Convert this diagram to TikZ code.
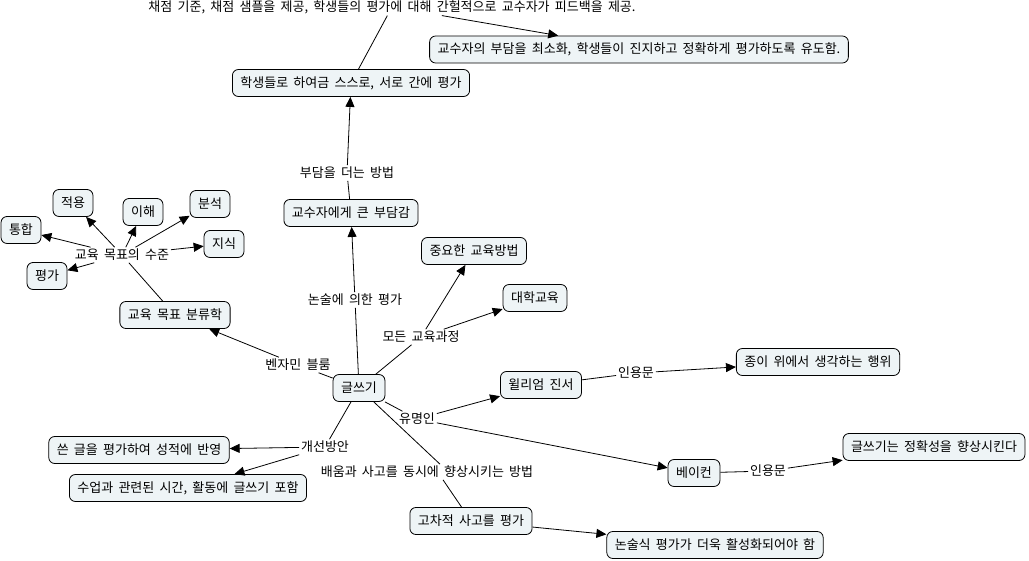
\documentclass[tikz,border=0pt]{standalone}
\usepackage{fontspec}
\newfontfamily\kr[WordSpace=1.8]{Noto Sans CJK KR}
\usetikzlibrary{arrows.meta}
\definecolor{boxfill}{RGB}{238,244,246}

\begin{document}
\begin{tikzpicture}[x=1pt,y=-1pt,line width=0.8pt,>={Triangle[length=10pt,width=9pt]},
  font=\kr\fontsize{13}{15}\selectfont,
  concept/.style={draw,rounded corners=6pt,fill=boxfill,inner xsep=8pt,minimum height=27pt},
  link/.style={inner sep=1.5pt}]
\useasboundingbox (0,0) rectangle (1029,561);
% concepts
\node[concept] (minim)   at (639,49.5) {교수자의 부담을 최소화, 학생들이 진지하고 정확하게 평가하도록 유도함.};
\node[concept] (peer)    at (351,83)   {학생들로 하여금 스스로, 서로 간에 평가};
\node[concept] (burden)  at (351,213)  {교수자에게 큰 부담감};
\node[concept] (write)   at (359,388)  {글쓰기};
\node[concept] (taxo)    at (175,315)  {교육 목표 분류학};
\node[concept] (method)  at (474,251)  {중요한 교육방법};
\node[concept] (univ)    at (535,298)  {대학교육};
\node[concept] (zinsser) at (541,385)  {윌리엄 진서};
\node[concept] (paper)   at (818,362)  {종이 위에서 생각하는 행위};
\node[concept] (bacon)   at (694,473)  {베이컨};
\node[concept] (accur)   at (934,447)  {글쓰기는 정확성을 향상시킨다};
\node[concept] (grade)   at (139,450)  {쓴 글을 평가하여 성적에 반영};
\node[concept] (class)   at (188,488)  {수업과 관련된 시간, 활동에 글쓰기 포함};
\node[concept] (higher)  at (471,521)  {고차적 사고를 평가};
\node[concept] (essay)   at (715,545)  {논술식 평가가 더욱 활성화되어야 함};
\foreach \n/\x/\y/\t in {apply/73/203/적용, underst/143/212/이해, analy/210/204/분석,
                         synth/21/230/통합, know/224/244/지식, evalu/47/276/평가}
  \node[concept] (\n) at (\x,\y) {\t};
% linking phrases
\node[link] (lfeed)   at (392,7)   {채점 기준, 채점 샘플을 제공, 학생들의 평가에 대해 간헐적으로 교수자가 피드백을 제공.};
\node[link] (lrelief) at (347,173) {부담을 더는 방법};
\node[link] (lessay)  at (355,300) {논술에 의한 평가};
\node[link] (lbloom)  at (298,365) {벤자민 블룸};
\node[link] (llevel)  at (122,255) {교육 목표의 수준};
\node[link] (lall)    at (421,337) {모든 교육과정};
\node[link] (lfamous) at (417,419) {유명인};
\node[link] (lquoteA) at (636,373) {인용문};
\node[link] (lquoteB) at (768,471) {인용문};
\node[link] (limpr)   at (325,447) {개선방안};
\node[link] (lboth)   at (427,472) {배움과 사고를 동시에 향상시키는 방법};
% connectors
\draw (peer) -- (lfeed);  \draw[->] (lfeed) -- (minim);
\draw (burden) -- (lrelief);  \draw[->] (lrelief) -- (peer);
\draw (write) -- (lessay);  \draw[->] (lessay) -- (burden);
\draw (write) -- (lbloom);  \draw[->] (lbloom) -- (taxo);
\draw (taxo) -- (llevel);
\foreach \n in {apply,underst,analy,synth,know,evalu}
  \draw[->] (llevel) -- (\n);
\draw (write) -- (lall);
\draw[->] (lall) -- (method);  \draw[->] (lall) -- (univ);
\draw (write) -- (lfamous);
\draw[->] (lfamous) -- (zinsser);  \draw[->] (lfamous) -- (bacon);
\draw (zinsser) -- (lquoteA);  \draw[->] (lquoteA) -- (paper);
\draw (bacon) -- (lquoteB);  \draw[->] (lquoteB) -- (accur);
\draw (write) -- (limpr);
\draw[->] (limpr) -- (grade);  \draw[->] (limpr) -- (class);
\draw (write) -- ([xshift=13pt]lboth.north);
\draw ([xshift=16pt]lboth.south) -- (higher);
\draw[->] (higher) -- (essay);
\end{tikzpicture}
\end{document}
